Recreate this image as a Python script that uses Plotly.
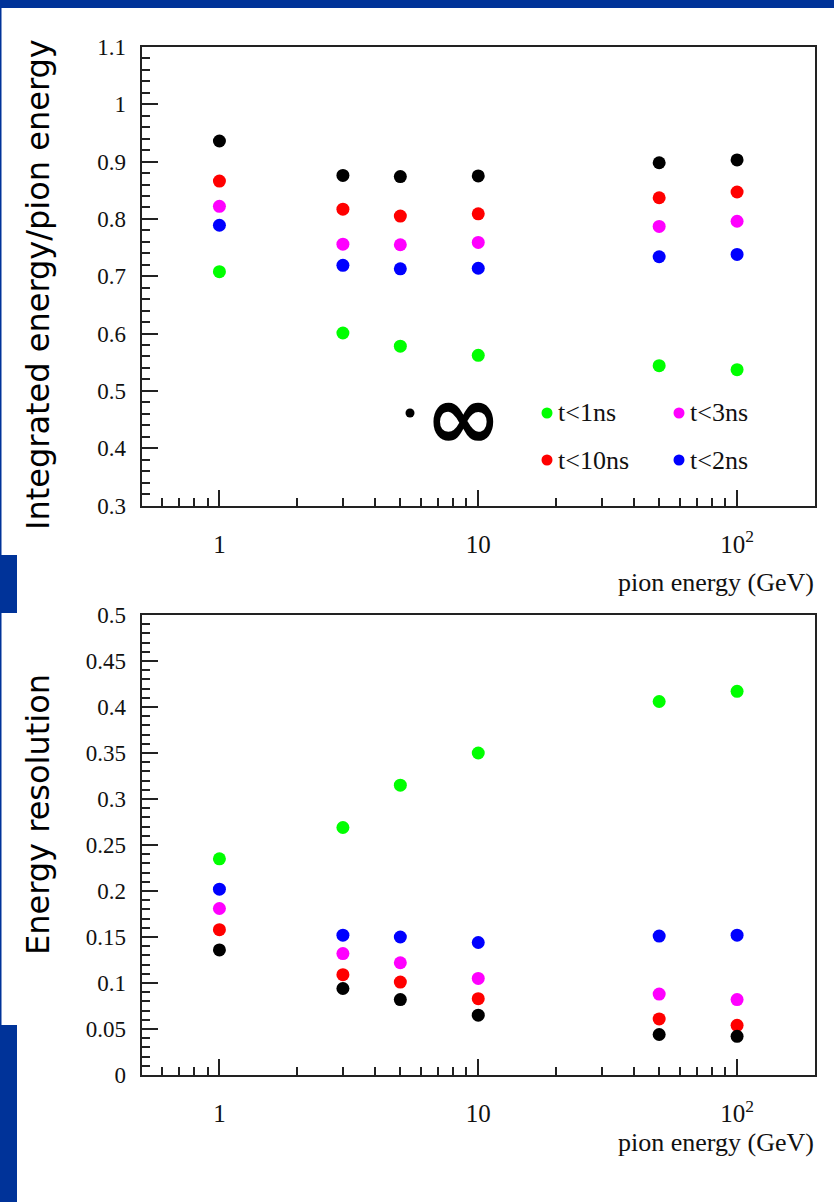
import math
import plotly.graph_objects as go

# ---------------- data ----------------
energy = [1, 3, 5, 10, 50, 100]

series_names = ["t<1ns", "t<2ns", "t<3ns", "t<10ns", "t<\u221e"]
series_colors = ["#00ff00", "#0000ff", "#ff00ff", "#ff0000", "#000000"]

# Integrated energy / pion energy
resp_1ns = [0.708, 0.601, 0.578, 0.562, 0.544, 0.537]
resp_2ns = [0.789, 0.719, 0.713, 0.714, 0.734, 0.738]
resp_3ns = [0.822, 0.756, 0.755, 0.759, 0.787, 0.796]
resp_10ns = [0.866, 0.817, 0.805, 0.809, 0.837, 0.847]
resp_inf = [0.936, 0.876, 0.874, 0.875, 0.898, 0.903]

# Energy resolution
res_1ns = [0.235, 0.269, 0.315, 0.350, 0.406, 0.417]
res_2ns = [0.202, 0.152, 0.150, 0.144, 0.151, 0.152]
res_3ns = [0.181, 0.132, 0.122, 0.105, 0.088, 0.082]
res_10ns = [0.158, 0.109, 0.101, 0.083, 0.061, 0.054]
res_inf = [0.136, 0.094, 0.082, 0.065, 0.044, 0.042]

top_series = [resp_1ns, resp_2ns, resp_3ns, resp_10ns, resp_inf]
bot_series = [res_1ns, res_2ns, res_3ns, res_10ns, res_inf]

x_tickvals = [1, 10, 100]
x_ticktext = ["1", "10", "10<sup>2</sup>"]

# ---------------- figure ----------------
W, H = 834, 1202
fig = go.Figure()

for name, col, ys in zip(series_names, series_colors, top_series):
    fig.add_trace(go.Scatter(x=energy, y=ys, mode="markers", name=name,
                             marker=dict(color=col, size=13, symbol="circle"),
                             xaxis="x", yaxis="y", showlegend=False))
for name, col, ys in zip(series_names, series_colors, bot_series):
    fig.add_trace(go.Scatter(x=energy, y=ys, mode="markers", name=name,
                             marker=dict(color=col, size=13, symbol="circle"),
                             xaxis="x2", yaxis="y2", showlegend=False))

def px_x(p):
    return p / W

def px_y(p):
    return 1 - p / H

tick_font = dict(family="Liberation Serif", size=23, color="#111")
xtick_font = dict(family="Liberation Serif", size=25, color="#111")
line_col = "#222"
minor_x = [0.6, 0.7, 0.8, 0.9, 2, 3, 4, 5, 6, 7, 8, 9,
           20, 30, 40, 50, 60, 70, 80, 90, 200]

xdom = [px_x(141.5), px_x(815)]
common_x = dict(type="log", range=[math.log10(0.5), math.log10(200)],
                tickvals=x_tickvals, ticktext=x_ticktext,
                ticks="inside", ticklen=16, tickwidth=2, tickcolor=line_col,
                minor=dict(ticks="inside", ticklen=8, tickwidth=2,
                           tickcolor=line_col, tickvals=minor_x),
                showline=True, linewidth=2, linecolor=line_col, mirror=True,
                showgrid=False, zeroline=False, tickfont=xtick_font,
                ticklabelstandoff=15, domain=xdom, automargin=False)
common_y = dict(ticks="inside", ticklen=16, tickwidth=2, tickcolor=line_col,
                showline=True, linewidth=2, linecolor=line_col, mirror=True,
                showgrid=False, zeroline=False, tickfont=tick_font,
                ticklabelstandoff=9, automargin=False)

fig.update_layout(
    width=W, height=H, autosize=False,
    margin=dict(l=0, r=0, t=0, b=0, pad=0, autoexpand=False),
    paper_bgcolor="white", plot_bgcolor="white",
    xaxis=dict(common_x, anchor="y"),
    yaxis=dict(common_y, range=[0.3, 1.1], dtick=0.1,
               minor=dict(ticks="inside", ticklen=8, tickwidth=2,
                          tickcolor=line_col, dtick=0.02),
               domain=[px_y(505.5), px_y(47)], anchor="x"),
    xaxis2=dict(common_x, anchor="y2"),
    yaxis2=dict(common_y, range=[0, 0.5], dtick=0.05,
                minor=dict(ticks="inside", ticklen=8, tickwidth=2,
                           tickcolor=line_col, dtick=0.01),
                domain=[px_y(1075), px_y(615)], anchor="x2"),
)

blue = "#003399"
shapes = [
    dict(type="rect", xref="paper", yref="paper", x0=0, x1=1, y0=px_y(8), y1=1,
         fillcolor=blue, line_width=0),
    dict(type="rect", xref="paper", yref="paper", x0=0, x1=px_x(1.5), y0=0, y1=1,
         fillcolor=blue, line_width=0),
    dict(type="rect", xref="paper", yref="paper", x0=0, x1=px_x(17),
         y0=px_y(613), y1=px_y(555), fillcolor=blue, line_width=0),
    dict(type="rect", xref="paper", yref="paper", x0=0, x1=px_x(17),
         y0=0, y1=px_y(1025), fillcolor=blue, line_width=0),
]

# legend markers (paper coords)
leg = [
    (410, 413, "#000000", None),
    (547, 413, series_colors[0], "t<1ns"),
    (679, 413, series_colors[2], "t<3ns"),
    (547, 460, series_colors[3], "t<10ns"),
    (679, 460, series_colors[1], "t<2ns"),
]
annotations = []
for (cx, cy, col, label) in leg:
    r = 5.5 if label else 4.5
    shapes.append(dict(type="circle", xref="paper", yref="paper",
                       x0=px_x(cx - r), x1=px_x(cx + r),
                       y0=px_y(cy + r), y1=px_y(cy - r),
                       fillcolor=col, line_width=0))
    if label:
        annotations.append(dict(text=label, xref="paper", yref="paper",
                                x=px_x(cx + 9), y=px_y(cy), xanchor="left",
                                yanchor="middle", showarrow=False,
                                font=dict(family="Liberation Serif", size=26,
                                          color="#111")))
annotations.append(dict(text="<b>\u221e</b>", xref="paper", yref="paper",
                        x=px_x(463), y=px_y(417), xanchor="center",
                        yanchor="middle", showarrow=False,
                        font=dict(family="DejaVu Sans", size=92, color="black")))

# axis titles
annotations += [
    dict(text="Integrated energy/pion energy", xref="paper", yref="paper",
         x=px_x(38), y=px_y(285), textangle=-90, showarrow=False,
         xanchor="center", yanchor="middle",
         font=dict(family="DejaVu Sans", size=32, color="black")),
    dict(text="Energy resolution", xref="paper", yref="paper",
         x=px_x(38), y=px_y(815), textangle=-90, showarrow=False,
         xanchor="center", yanchor="middle",
         font=dict(family="DejaVu Sans", size=32, color="black")),
    dict(text="pion energy (GeV)", xref="paper", yref="paper",
         x=px_x(816), y=px_y(582), xanchor="right", yanchor="middle",
         showarrow=False,
         font=dict(family="Liberation Serif", size=26, color="#111")),
    dict(text="pion energy (GeV)", xref="paper", yref="paper",
         x=px_x(816), y=px_y(1142), xanchor="right", yanchor="middle",
         showarrow=False,
         font=dict(family="Liberation Serif", size=26, color="#111")),
]

fig.update_layout(shapes=shapes, annotations=annotations)

post = (
    "document.documentElement.style.margin='0';"
    "document.documentElement.style.overflow='hidden';"
    "document.body.style.margin='0';"
    "document.body.style.overflow='hidden';"
    "var d=document.getElementById('{plot_id}');"
    "d.style.position='absolute';d.style.left='0px';d.style.top='0px';"
)
fig.write_html("out.html", post_script=post,
               config={"displayModeBar": False, "responsive": False})
